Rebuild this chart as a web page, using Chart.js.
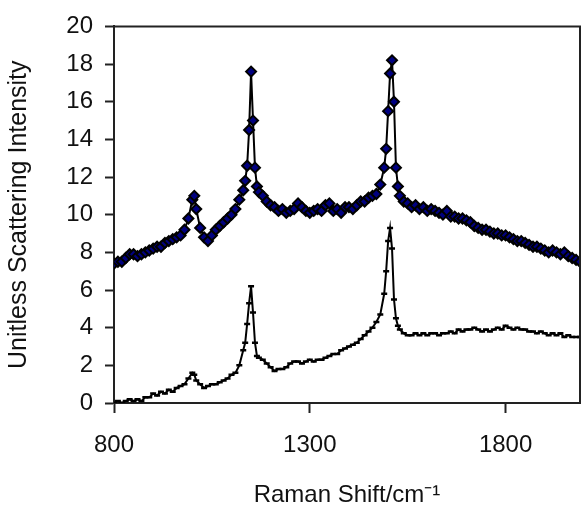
<!DOCTYPE html>
<html>
<head>
<meta charset="utf-8">
<script src="https://cdn.jsdelivr.net/npm/chart.js@4.4.1/dist/chart.umd.min.js"></script>
<style>
  html, body { margin: 0; padding: 0; background: #fff; }
  #wrap { width: 587px; height: 508px; position: relative; }
</style>
</head>
<body>
<div id="wrap"><canvas id="myChart"></canvas></div>
<script>
// Raman shift (cm-1)
const shifts = [
  800, 810, 820, 830, 840, 850, 860, 870, 880, 890,
  900, 910, 920, 930, 940, 950, 960, 970, 980, 990,
  1000, 1005, 1010, 1020, 1030, 1040, 1050, 1060, 1070, 1080,
  1090, 1100, 1110, 1120, 1130, 1135, 1140, 1145, 1150, 1155,
  1160, 1165, 1170, 1180, 1190, 1200, 1210, 1220, 1230, 1240,
  1250, 1260, 1270, 1280, 1290, 1300, 1310, 1320, 1330, 1340,
  1350, 1360, 1370, 1380, 1390, 1400, 1410, 1420, 1430, 1440,
  1450, 1460, 1470, 1480, 1490, 1495, 1500, 1505, 1510, 1515,
  1520, 1525, 1530, 1540, 1550, 1560, 1570, 1580, 1590, 1600,
  1610, 1620, 1630, 1640, 1650, 1660, 1670, 1680, 1690, 1700,
  1710, 1720, 1730, 1740, 1750, 1760, 1770, 1780, 1790, 1800,
  1810, 1820, 1830, 1840, 1850, 1860, 1870, 1880, 1890, 1900,
  1910, 1920, 1930, 1940, 1950, 1960, 1970, 1980, 1990
];

// upper spectrum (offset)
const upperIntensity = [
  7.4, 7.5, 7.5, 7.7, 7.9, 7.9, 7.8, 7.9, 8.0, 8.1,
  8.2, 8.3, 8.3, 8.5, 8.6, 8.7, 8.8, 8.9, 9.2, 9.8,
  10.8, 11.0, 10.3, 9.3, 8.8, 8.6, 8.9, 9.2, 9.4, 9.6,
  9.8, 10.0, 10.3, 10.8, 11.3, 11.8, 12.6, 14.5, 17.6, 15.0,
  12.5, 11.5, 11.2, 11.0, 10.7, 10.5, 10.4, 10.2, 10.3, 10.1,
  10.2, 10.3, 10.6, 10.4, 10.2, 10.1, 10.2, 10.3, 10.2, 10.5,
  10.6, 10.2, 10.3, 10.1, 10.4, 10.4, 10.3, 10.5, 10.7, 10.7,
  10.9, 11.0, 11.1, 11.6, 12.5, 13.5, 15.5, 17.5, 18.2, 16.0,
  12.5, 11.5, 11.0, 10.7, 10.6, 10.4, 10.5, 10.3, 10.4, 10.2,
  10.3, 10.2, 10.1, 10.0, 10.2, 9.9, 9.9, 9.8, 9.8, 9.7,
  9.6, 9.4, 9.3, 9.2, 9.2, 9.1, 9.0, 9.0, 8.9, 8.9,
  8.8, 8.7, 8.6, 8.6, 8.5, 8.4, 8.3, 8.3, 8.2, 8.1,
  8.0, 8.1, 8.0, 7.9, 8.0, 7.8, 7.7, 7.6, 7.5
];

// lower spectrum
const lowerIntensity = [
  0.0, 0.1, 0.0, 0.1, 0.2, 0.1, 0.2, 0.1, 0.3, 0.3,
  0.5, 0.4, 0.6, 0.5, 0.7, 0.6, 0.8, 0.9, 1.0, 1.3,
  1.6, 1.5, 1.2, 1.0, 0.8, 0.9, 1.0, 1.0, 1.1, 1.2,
  1.3, 1.5, 1.6, 2.0, 2.8, 3.2, 4.2, 5.3, 6.2, 4.8,
  3.2, 2.5, 2.4, 2.3, 2.1, 1.9, 1.7, 1.8, 1.8, 1.9,
  2.1, 2.2, 2.2, 2.1, 2.2, 2.3, 2.2, 2.3, 2.3, 2.4,
  2.5, 2.6, 2.6, 2.8, 2.9, 3.0, 3.1, 3.2, 3.4, 3.6,
  3.8, 4.0, 4.3, 4.7, 5.8, 7.0, 8.6, 9.3, 8.2, 5.5,
  4.5, 4.1, 3.9, 3.7, 3.6, 3.6, 3.7, 3.6, 3.7, 3.6,
  3.7, 3.7, 3.6, 3.7, 3.7, 3.8, 3.7, 3.9, 3.8, 3.9,
  3.9, 4.0, 3.9, 3.8, 3.9, 3.8, 3.9, 4.0, 3.9, 4.1,
  4.0, 3.9, 4.0, 3.9, 3.9, 3.8, 3.8, 3.7, 3.8, 3.7,
  3.6, 3.7, 3.6, 3.7, 3.5, 3.6, 3.5, 3.5, 3.5
];

const xTickValues = [800, 1300, 1800];

const toPoints = (ys) => shifts.map((x, i) => ({ x, y: ys[i] }));

// marco superior y derecho del area de trazado
const boxPlugin = {
  id: 'box',
  afterDraw(chart) {
    const { ctx, chartArea: a } = chart;
    ctx.save();
    ctx.strokeStyle = '#222';
    ctx.lineWidth = 2;
    ctx.beginPath();
    ctx.moveTo(a.left, a.top);
    ctx.lineTo(a.right, a.top);
    ctx.lineTo(a.right, a.bottom);
    ctx.stroke();
    ctx.restore();
  }
};

const fontFamily = 'Liberation Sans, Arial, sans-serif';

const ctx = document.getElementById('myChart').getContext('2d');
new Chart(ctx, {
  type: 'scatter',
  data: {
    datasets: [
      {
        data: toPoints(lowerIntensity),
        showLine: true,
        borderColor: '#000',
        borderWidth: 2,
        pointStyle: 'line',
        pointRadius: 3,
        pointBorderWidth: 2.5,
        pointBorderColor: '#000',
        pointBackgroundColor: '#000'
      },
      {
        data: toPoints(upperIntensity),
        showLine: true,
        borderColor: '#000',
        borderWidth: 2,
        pointStyle: 'rectRot',
        pointRadius: 5,
        pointBorderWidth: 2,
        pointBorderColor: '#000',
        pointBackgroundColor: '#000080'
      }
    ]
  },
  options: {
    responsive: true,
    maintainAspectRatio: false,
    animation: false,
    layout: { padding: { top: 24, right: 2, left: 0, bottom: 0 } },
    plugins: {
      legend: { display: false },
      tooltip: { enabled: false }
    },
    scales: {
      x: {
        type: 'linear',
        min: 800,
        max: 1990,
        afterBuildTicks: (axis) => { axis.ticks = xTickValues.map(v => ({ value: v })); },
        afterFit: (axis) => { axis.height = 105; },
        border: { color: '#222', width: 2 },
        grid: { drawOnChartArea: false, tickLength: 10, tickColor: '#222', tickWidth: 2 },
        ticks: {
          color: '#111',
          padding: 18,
          maxRotation: 0,
          callback: (v) => String(v),
          font: { family: fontFamily, size: 24 }
        },
        title: {
          display: true,
          text: 'Raman Shift/cm\u207B\u00B9',
          color: '#111',
          padding: { top: 20, bottom: -2 },
          font: { family: fontFamily, size: 24 }
        }
      },
      y: {
        min: 0,
        max: 20,
        afterFit: (axis) => { axis.width = 114; },
        border: { color: '#222', width: 2 },
        grid: { drawOnChartArea: false, tickLength: 9, tickColor: '#222', tickWidth: 2 },
        ticks: {
          stepSize: 2,
          color: '#111',
          padding: 12,
          font: { family: fontFamily, size: 24 }
        },
        title: {
          display: true,
          text: 'Unitless Scattering Intensity',
          color: '#111',
          padding: { bottom: 0 },
          font: { family: fontFamily, size: 25 }
        }
      }
    }
  },
  plugins: [boxPlugin]
});
</script>
</body>
</html>
